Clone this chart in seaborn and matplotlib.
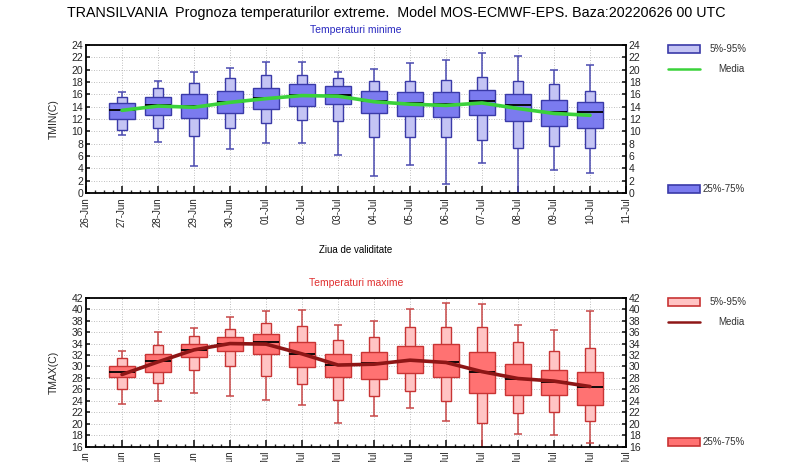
import numpy as np
import pandas as pd
import matplotlib
matplotlib.use("Agg")
import matplotlib.pyplot as plt
import matplotlib.ticker as mticker
from matplotlib.patches import Rectangle
from matplotlib.lines import Line2D
import seaborn as sns

sns.set_theme(style="ticks")
plt.rcParams["font.family"] = ["Liberation Sans", "DejaVu Sans"]

# ── data ─────────────────────────────────────────────────────────────────
date_labels = ["26-Jun", "27-Jun", "28-Jun", "29-Jun", "30-Jun", "01-Jul", "02-Jul",
               "03-Jul", "04-Jul", "05-Jul", "06-Jul", "07-Jul", "08-Jul", "09-Jul",
               "10-Jul", "11-Jul"]
days = list(range(1, 15))  # 27-Jun .. 10-Jul

tmin_lo  = [9.45, 8.3, 4.4, 7.1, 8.1, 8.05, 6.1, 2.8, 4.6, 1.45, 4.9, 0.0, 3.8, 3.3]
tmin_p05 = [10.2, 10.6, 9.2, 10.6, 11.3, 11.8, 11.6, 9.1, 9.1, 9.0, 8.6, 7.35, 7.6, 7.3]
tmin_p25 = [12.0, 12.7, 12.1, 13.0, 13.6, 14.1, 14.4, 13.0, 12.5, 12.4, 12.6, 11.75, 10.8, 10.5]
tmin_med = [13.4, 14.2, 14.1, 14.7, 15.4, 15.9, 15.9, 14.9, 14.6, 14.5, 14.9, 14.2, 13.15, 13.1]
tmin_p75 = [14.65, 15.6, 16.0, 16.5, 17.1, 17.6, 17.3, 16.5, 16.3, 16.4, 16.7, 16.1, 15.0, 14.8]
tmin_p95 = [15.6, 17.1, 17.9, 18.6, 19.2, 19.2, 18.7, 18.1, 18.1, 18.4, 18.8, 18.1, 17.7, 16.6]
tmin_hi  = [16.3, 18.2, 19.65, 20.3, 21.3, 21.3, 19.7, 20.1, 21.0, 21.5, 22.75, 22.2, 19.9, 20.7]
tmin_mean = [13.4, 14.1, 13.9, 14.7, 15.3, 15.8, 15.7, 14.8, 14.4, 14.2, 14.6, 13.7, 12.9, 12.6]

tmax_lo  = [23.5, 23.9, 25.4, 24.8, 24.1, 23.3, 20.1, 21.4, 22.7, 20.4, 15.8, 18.3, 18.1, 16.6]
tmax_p05 = [26.1, 27.05, 29.4, 30.1, 28.3, 26.9, 24.1, 24.9, 25.7, 24.0, 20.2, 21.8, 22.05, 20.4]
tmax_p25 = [28.1, 29.1, 31.7, 32.75, 32.2, 29.85, 28.2, 27.9, 28.9, 28.1, 25.4, 25.1, 24.95, 23.3]
tmax_med = [29.0, 30.9, 32.9, 33.9, 34.3, 32.2, 30.25, 30.55, 31.0, 30.7, 29.0, 27.75, 27.3, 26.35]
tmax_p75 = [30.1, 32.2, 34.0, 35.1, 35.7, 34.2, 32.2, 32.6, 33.6, 33.9, 32.5, 30.4, 29.3, 29.1]
tmax_p95 = [31.5, 33.7, 35.4, 36.6, 37.6, 37.1, 34.7, 35.15, 36.95, 36.95, 36.9, 34.3, 32.7, 33.3]
tmax_hi  = [32.7, 36.1, 36.65, 38.6, 39.6, 39.85, 37.2, 38.0, 40.0, 41.0, 40.85, 37.3, 36.3, 39.7]
tmax_mean = [28.6, 30.8, 32.9, 34.0, 33.9, 32.2, 30.25, 30.4, 31.1, 30.7, 29.1, 27.9, 27.45, 26.5]

tmin = pd.DataFrame({"day": days, "lo": tmin_lo, "p05": tmin_p05, "p25": tmin_p25,
                     "med": tmin_med, "p75": tmin_p75, "p95": tmin_p95, "hi": tmin_hi,
                     "mean": tmin_mean})
tmax = pd.DataFrame({"day": days, "lo": tmax_lo, "p05": tmax_p05, "p25": tmax_p25,
                     "med": tmax_med, "p75": tmax_p75, "p95": tmax_p95, "hi": tmax_hi,
                     "mean": tmax_mean})

BLUE = dict(light="#c4c4f4", dark="#7b7bef", edge="#3a3aa8", whisk="#4a4ab0",
            mean="#3ad23a", title="#2a2ac0")
RED = dict(light="#ffc4c4", dark="#ff7272", edge="#c83434", whisk="#c84848",
           mean="#8e1616", title="#e03030")


def draw_panel(ax, df, pal, ylim, ylabel):
    x = df["day"].to_numpy()
    ax.vlines(x, df["lo"], df["hi"], color=pal["whisk"], lw=1.1, zorder=2)
    ax.hlines(df["lo"], x - 0.12, x + 0.12, color=pal["whisk"], lw=1.1, zorder=2)
    ax.hlines(df["hi"], x - 0.12, x + 0.12, color=pal["whisk"], lw=1.1, zorder=2)
    ax.bar(x, df["p95"] - df["p05"], bottom=df["p05"], width=0.3,
           color=pal["light"], edgecolor=pal["edge"], lw=1.0, zorder=3)
    ax.bar(x, df["p75"] - df["p25"], bottom=df["p25"], width=0.7,
           color=pal["dark"], edgecolor=pal["edge"], lw=1.0, zorder=4)
    ax.hlines(df["med"], x - 0.35, x + 0.35, color="black", lw=1.3, zorder=5)
    sns.lineplot(data=df, x="day", y="mean", ax=ax, color=pal["mean"], lw=2.6,
                 zorder=6, legend=False)

    ax.set_xlim(0, 15)
    ax.set_ylim(*ylim)
    ax.xaxis.set_minor_locator(mticker.MultipleLocator(0.25))
    ax.yaxis.set_major_locator(mticker.MultipleLocator(2))
    ax.set_xticks(range(16))
    ax.set_xticklabels(date_labels, rotation=90, fontsize=7)
    ax.tick_params(axis="y", labelsize=7.5, right=True, labelright=True,
                   direction="in", length=3, pad=2)
    ax.tick_params(axis="x", which="major", direction="in", length=5, pad=3)
    ax.tick_params(axis="x", which="minor", direction="in", length=2.5)
    ax.grid(True, which="major", color="#aaaaaa", ls=(0, (1, 2)), lw=0.6)
    ax.set_xlabel("")
    ax.set_ylabel(ylabel, fontsize=7.5, labelpad=9)
    for s in ax.spines.values():
        s.set_color("black")
        s.set_linewidth(1.3)


fig = plt.figure(figsize=(8, 4.62), dpi=100)
ax1 = fig.add_axes([0.1075, 0.5823, 0.675, 0.3203])
ax2 = fig.add_axes([0.1075, 0.0331, 0.675, 0.3225])

draw_panel(ax1, tmin, BLUE, (0, 24), "TMIN(C)")
draw_panel(ax2, tmax, RED, (16, 42), "TMAX(C)")

fig.text(0.495, 0.972, "TRANSILVANIA  Prognoza temperaturilor extreme.  Model MOS-ECMWF-EPS. Baza:20220626 00 UTC",
         ha="center", va="center", fontsize=10.3, color="black")
fig.text(0.445, 0.934, "Temperaturi minime", ha="center", va="center",
         fontsize=7.5, color=BLUE["title"])
fig.text(0.445, 0.387, "Temperaturi maxime", ha="center", va="center",
         fontsize=7.5, color=RED["title"])
fig.text(0.445, 0.459, "Ziua de validitate", ha="center", va="center",
         fontsize=7, color="black")


# ── legends (outside, right) ────────────────────────────────────────────
def legend_block(pal, y_top, y_mid, y_bot):
    fig.patches.append(Rectangle((0.835, y_top - 0.009), 0.04, 0.018, transform=fig.transFigure,
                                 facecolor=pal["light"], edgecolor=pal["edge"], lw=1.2))
    fig.text(0.887, y_top, "5%-95%", va="center", fontsize=7, color="#333333")
    fig.lines.append(Line2D([0.835, 0.875], [y_mid, y_mid], transform=fig.transFigure,
                            color=pal["mean"], lw=1.8))
    fig.text(0.898, y_mid, "Media", va="center", fontsize=7, color="#333333")
    fig.patches.append(Rectangle((0.835, y_bot - 0.009), 0.04, 0.018, transform=fig.transFigure,
                                 facecolor=pal["dark"], edgecolor=pal["edge"], lw=1.2))
    fig.text(0.878, y_bot, "25%-75%", va="center", fontsize=7, color="#333333")


legend_block(BLUE, 1 - 49 / 462, 1 - 69 / 462, 1 - 189 / 462)
legend_block(RED, 1 - 302 / 462, 1 - 322 / 462, 1 - 442 / 462)

fig.savefig("out.png", dpi=100, facecolor="white")
